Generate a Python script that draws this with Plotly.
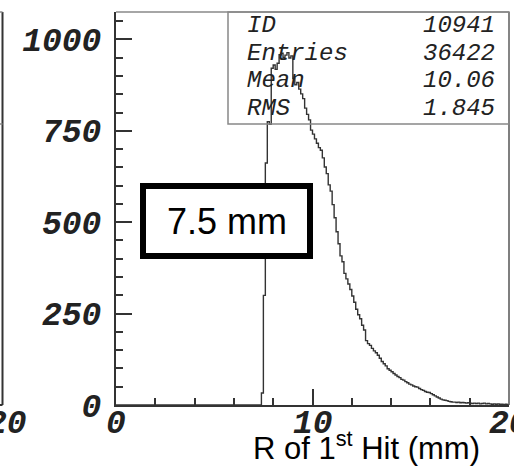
import numpy as np
import plotly.graph_objects as go

# Histogram of the radius of the first hit, 0.1 mm bins starting at 7.3 mm
bin_start = 7.3
bin_width = 0.1
counts = [
    0, 33, 300, 662, 775, 768, 921, 930, 918, 935,
    958, 962, 951, 957, 964, 949, 955, 893, 876, 882,
    864, 851, 838, 812, 795, 780, 752, 741, 728, 716,
    704, 697, 676, 651, 633, 602, 585, 548, 512, 474,
    441, 408, 392, 360, 345, 331, 316, 298, 281, 262,
    247, 236, 218, 205, 176, 168, 163, 155, 148, 143,
    136, 128, 119, 113, 107, 99, 95, 91, 86, 82,
    78, 75, 70, 68, 64, 61, 57, 55, 52, 50,
    49, 45, 42, 40, 37, 35, 34, 31, 28, 25,
    22, 19, 16, 14, 13, 12, 10, 9, 8, 8,
    7, 8, 6, 7, 6, 5, 6, 5, 4, 5,
    4, 5, 3, 4, 5, 3, 4, 3, 2, 3,
    2, 3, 2, 2, 1, 2, 1,
]

# Statistics box
stat_names = ["ID", "Entries", "Mean", "RMS"]
stat_values = ["10941", "36422", "10.06", "1.845"]

# Axis ticks
x_tickvals = [0, 10, 20]
x_ticktext = ["0", "10", "20"]
y_tickvals = [0, 250, 500, 750, 1000]
y_ticktext = ["0", "250", "500", "750", "1000"]

cut_label = "7.5 mm"
x_title = "R of 1<sup>st</sup> Hit (mm)"
neighbour_label = "20"

W, H = 514, 472


def px(v):
    return v / W


def py(v):
    return 1 - v / H


left_edges = np.round(bin_start + bin_width * np.arange(len(counts)), 2)
x_steps = [0.0] + list(left_edges) + [20.0]
y_steps = [0] + counts + [counts[-1]]

tick_font = dict(family="Liberation Mono", size=33, color="#222",
                 style="italic", weight="bold")
stat_font = dict(family="Liberation Mono", size=24, color="#222", style="italic")

fig = go.Figure()
fig.add_trace(go.Scatter(
    x=x_steps, y=y_steps, mode="lines", line_shape="hv",
    line=dict(color="#333", width=1.4), hoverinfo="skip", showlegend=False,
))

frame_col = "#333"
fig.update_layout(
    width=W, height=H,
    margin=dict(l=0, r=0, t=0, b=0, autoexpand=False),
    paper_bgcolor="white", plot_bgcolor="white",
    showlegend=False,
    xaxis=dict(
        domain=[px(116), px(509)], range=[0, 20], automargin=False,
        tickvals=x_tickvals, ticktext=x_ticktext, showticklabels=False,
        ticks="inside", ticklen=16, tickwidth=1.5, tickcolor=frame_col,
        minor=dict(dtick=2, tick0=0, ticks="inside", ticklen=7,
                   tickwidth=1.5, tickcolor=frame_col),
        showline=True, linecolor=frame_col, linewidth=2,
        showgrid=False, zeroline=False,
    ),
    yaxis=dict(
        domain=[py(405), py(12)], range=[0, 1075], automargin=False,
        tickvals=y_tickvals, ticktext=y_ticktext,
        ticks="inside", ticklen=16, tickwidth=1.5, tickcolor=frame_col,
        minor=dict(dtick=50, tick0=0, ticks="inside", ticklen=7,
                   tickwidth=1.5, tickcolor=frame_col),
        showline=True, linecolor=frame_col, linewidth=2,
        showgrid=False, zeroline=False, tickfont=tick_font,
        ticklabelstandoff=6,
    ),
)

shapes = []
# top and right frame
shapes.append(dict(type="line", xref="paper", yref="paper",
                   x0=px(116), x1=px(509), y0=py(12), y1=py(12),
                   line=dict(color="#888", width=1.5)))
shapes.append(dict(type="line", xref="paper", yref="paper",
                   x0=px(509), x1=px(509), y0=py(12), y1=py(405),
                   line=dict(color="#555", width=1.5)))
# statistics box
shapes.append(dict(type="rect", xref="paper", yref="paper",
                   x0=px(228), x1=px(509), y0=py(124), y1=py(12),
                   line=dict(color="#888", width=1.5), fillcolor="rgba(0,0,0,0)"))
# cut label box
shapes.append(dict(type="rect", xref="paper", yref="paper",
                   x0=px(143), x1=px(310), y0=py(256), y1=py(186),
                   line=dict(color="black", width=6), fillcolor="white",
                   layer="above"))
# edge of the neighbouring panel
shapes.append(dict(type="line", xref="paper", yref="paper",
                   x0=px(2.5), x1=px(2.5), y0=py(12), y1=py(405),
                   line=dict(color=frame_col, width=2)))
for yy in (12, 124):
    shapes.append(dict(type="line", xref="paper", yref="paper",
                       x0=px(-5), x1=px(2.5), y0=py(yy), y1=py(yy),
                       line=dict(color="#888", width=1.5)))
shapes.append(dict(type="line", xref="paper", yref="paper",
                   x0=px(-5), x1=px(2.5), y0=py(405), y1=py(405),
                   line=dict(color=frame_col, width=2)))
fig.update_layout(shapes=shapes)

ann = []
# x tick labels, placed at the tick values just under the axis
for tv, tt in zip(x_tickvals, x_ticktext):
    ann.append(dict(xref="x", yref="paper", x=tv, y=py(424), text=tt,
                    showarrow=False, xanchor="center", yanchor="middle",
                    font=tick_font))
row_y = [26, 53, 80, 108]
for name, val, ry in zip(stat_names, stat_values, row_y):
    ann.append(dict(xref="paper", yref="paper", x=px(245), y=py(ry),
                    text=name, showarrow=False, xanchor="left",
                    yanchor="middle", font=stat_font))
    ann.append(dict(xref="paper", yref="paper", x=px(497), y=py(ry),
                    text=val, showarrow=False, xanchor="right",
                    yanchor="middle", font=stat_font))
ann.append(dict(xref="paper", yref="paper", x=px(226.5), y=py(221),
                text=cut_label, showarrow=False, xanchor="center",
                yanchor="middle",
                font=dict(family="Liberation Sans", size=36, color="black")))
ann.append(dict(xref="paper", yref="paper", x=px(366), y=py(446),
                text=x_title, showarrow=False, xanchor="center",
                yanchor="middle",
                font=dict(family="Liberation Sans", size=31, color="black")))
ann.append(dict(xref="paper", yref="paper", x=px(7), y=py(424),
                text=neighbour_label, showarrow=False, xanchor="center",
                yanchor="middle", font=tick_font))
fig.update_layout(annotations=ann)

fig.write_html("out.html")
